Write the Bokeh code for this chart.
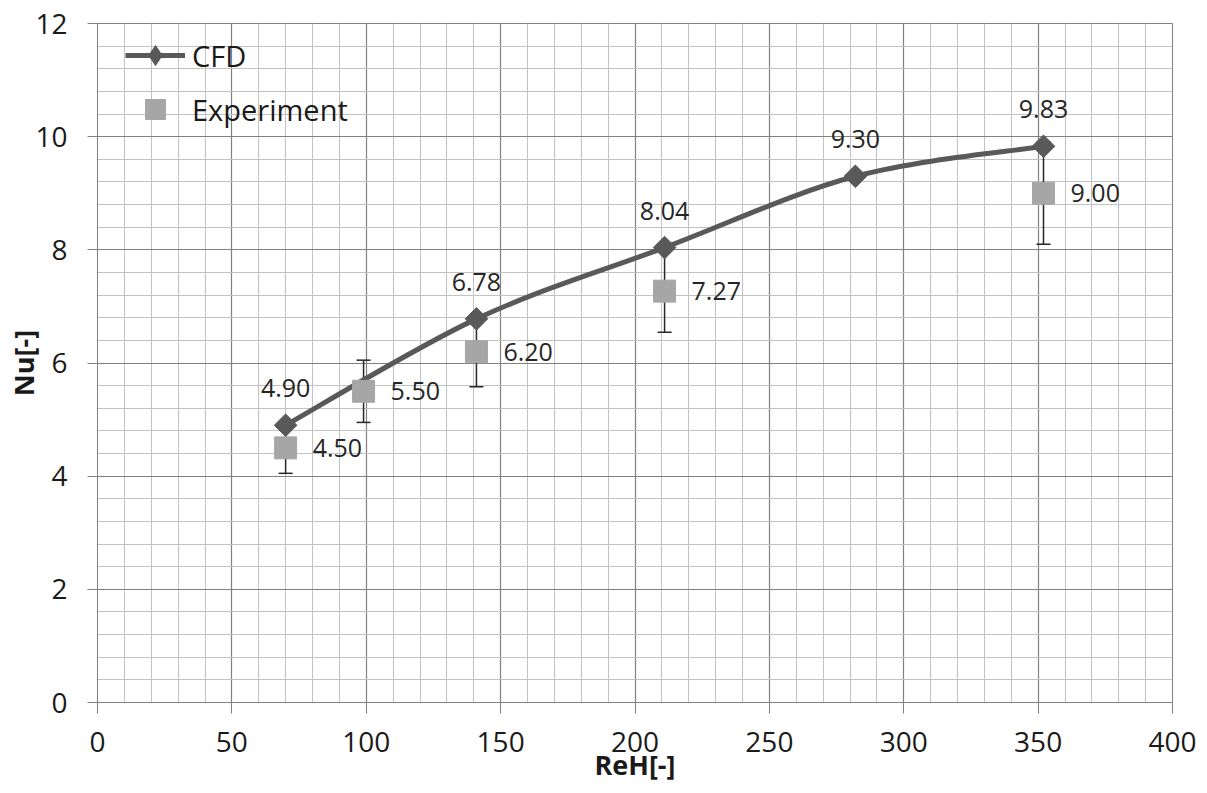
import numpy as np
from bokeh.plotting import figure
from bokeh.models import SingleIntervalTicker, Range1d, Legend, LegendItem
from bokeh.core.properties import value
from bokeh.embed import file_html
from bokeh.resources import INLINE

# ---- data ----
cfd_re = [70, 141, 211, 282, 352]
cfd_nu = [4.90, 6.78, 8.04, 9.30, 9.83]
exp_re = [70, 99, 141, 211, 352]
exp_nu = [4.50, 5.50, 6.20, 7.27, 9.00]
exp_err = [0.45, 0.55, 0.62, 0.727, 0.90]

FONT = "Open Sans"
CFD_COL = "#595959"
EXP_COL = "#a6a6a6"
MAJ = "#808080"
MIN = "#c2c2c2"
TXT = "#1a1a1a"

p = figure(width=1199, height=785, x_range=Range1d(0, 400), y_range=Range1d(0, 12),
           output_backend="svg", toolbar_location=None,
           min_border_left=97, min_border_right=27, min_border_top=23, min_border_bottom=83)
p.background_fill_color = "white"
p.border_fill_color = "white"
p.outline_line_color = MAJ

p.xaxis.ticker = SingleIntervalTicker(interval=50, num_minor_ticks=5)
p.yaxis.ticker = SingleIntervalTicker(interval=2, num_minor_ticks=5)
p.grid.grid_line_color = MAJ
p.grid.grid_line_width = 1.2
p.grid.minor_grid_line_color = MIN
p.grid.minor_grid_line_width = 1

for ax in (p.xaxis, p.yaxis):
    ax.axis_line_color = MAJ
    ax.major_tick_line_color = MAJ
    ax.major_tick_in = 0
    ax.minor_tick_in = 0
    ax.minor_tick_out = 0
    ax.major_label_text_font = FONT
    ax.major_label_text_font_size = "28px"
    ax.major_label_text_color = TXT
    ax.axis_label_text_font = FONT
    ax.axis_label_text_font_size = "27px"
    ax.axis_label_text_font_style = "bold"
    ax.axis_label_text_color = TXT

p.xaxis.major_tick_out = 11
p.xaxis.major_label_standoff = 18
p.xaxis.axis_label = "ReH[-]"
p.xaxis.axis_label_standoff = -9
p.yaxis.major_tick_out = 10
p.yaxis.major_label_standoff = 20
p.yaxis.axis_label = "Nu[-]"
p.yaxis.axis_label_standoff = -10

# ---- error bars (drawn first, underneath) ----
lower = [v - e for v, e in zip(exp_nu, exp_err)]
upper = [v + e for v, e in zip(exp_nu, exp_err)]
p.segment(x0=exp_re, y0=lower, x1=exp_re, y1=upper, line_color="#262626", line_width=1.5)
p.scatter(x=exp_re + exp_re, y=lower + upper, marker="dash", size=14,
          line_color="#262626", line_width=1.5)

# ---- CFD smoothed line (Catmull-Rom -> cubic Bezier) ----
x = np.array(cfd_re, dtype=float)
y = np.array(cfd_nu, dtype=float)
xe = np.concatenate([[x[0]], x, [x[-1]]])
ye = np.concatenate([[y[0]], y, [y[-1]]])
n = len(x)
x0 = x[:-1]; y0 = y[:-1]; x1 = x[1:]; y1 = y[1:]
cx0 = x0 + (xe[2:n + 1] - xe[0:n - 1]) / 6.0
cy0 = y0 + (ye[2:n + 1] - ye[0:n - 1]) / 6.0
cx1 = x1 - (xe[3:n + 2] - xe[1:n]) / 6.0
cy1 = y1 - (ye[3:n + 2] - ye[1:n]) / 6.0
bez = p.bezier(x0=x0, y0=y0, x1=x1, y1=y1, cx0=cx0, cy0=cy0, cx1=cx1, cy1=cy1,
               line_color=CFD_COL, line_width=5)
# diamond glyph (hidden under the rotated squares) used for the legend swatch
cfd_leg = p.scatter(x=cfd_re, y=cfd_nu, marker="diamond", size=20,
                    fill_color=CFD_COL, line_color=CFD_COL)
cfd_pts = p.scatter(x=cfd_re, y=cfd_nu, marker="square", angle=np.pi / 4, size=16,
                    fill_color=CFD_COL, line_color=CFD_COL)

# ---- Experiment squares ----
exp_pts = p.scatter(x=exp_re, y=exp_nu, marker="square", size=22,
                    fill_color=EXP_COL, line_color=EXP_COL)

# ---- data labels ----
p.text(x=cfd_re, y=cfd_nu, text=[f"{v:.2f}" for v in cfd_nu], text_align="center",
       text_baseline="middle", y_offset=-37, text_font=value(FONT),
       text_font_size="25px", text_color="#262626")
p.text(x=exp_re, y=exp_nu, text=[f"{v:.2f}" for v in exp_nu], text_align="left",
       text_baseline="middle", x_offset=27, text_font=value(FONT),
       text_font_size="25px", text_color="#262626")

legend = Legend(items=[LegendItem(label="CFD", renderers=[bez, cfd_leg]),
                       LegendItem(label="Experiment", renderers=[exp_pts])],
                location=(28, 568), glyph_width=60, glyph_height=50, label_height=50,
                spacing=4, padding=0, margin=0, label_standoff=7,
                border_line_color=None, background_fill_alpha=0,
                label_text_font=FONT, label_text_font_size="29px", label_text_color=TXT)
p.add_layout(legend)

open("out.html", "w").write(file_html(p, INLINE))
